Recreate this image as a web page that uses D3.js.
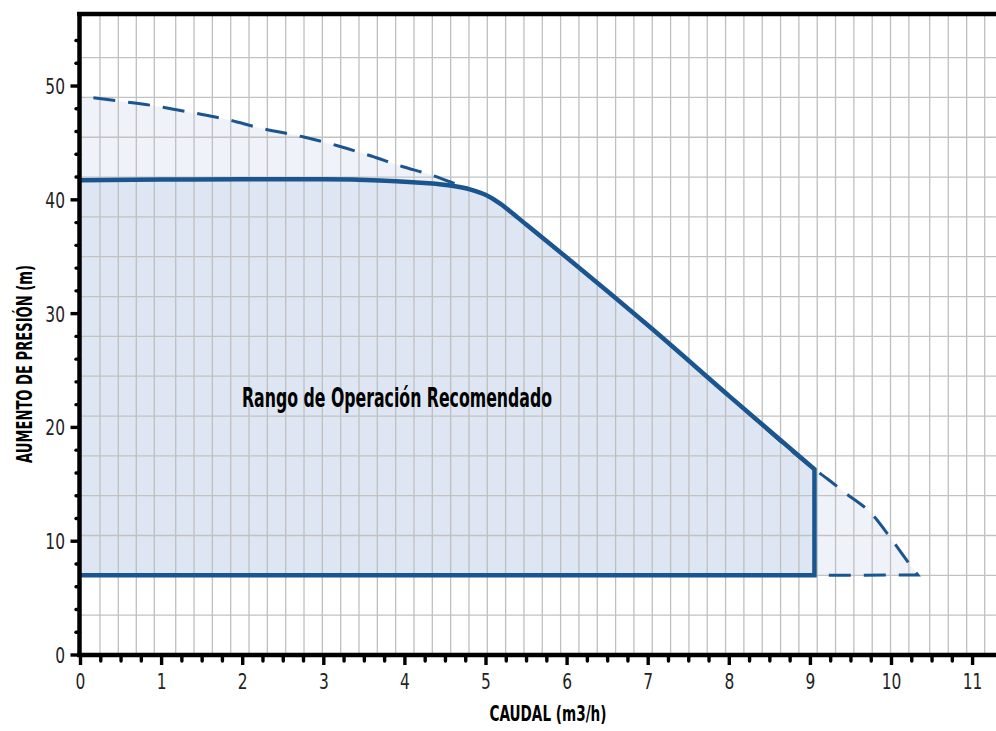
<!DOCTYPE html>
<html>
<head>
<meta charset="utf-8">
<script src="https://cdn.jsdelivr.net/npm/d3@7"></script>
<style>
  body { margin: 0; background: #fff; }
  svg text { font-family: "Liberation Sans Narrow", "DejaVu Sans Condensed", "Roboto Condensed", "Liberation Sans", sans-serif; }
</style>
</head>
<body>
<div id="chart"></div>
<script>
// curva maxima de la bomba (linea discontinua)
var maxQ = [0, 0.44, 0.93, 1.385, 1.80, 2.23, 2.74, 3.17, 3.585, 3.975, 4.26, 4.7, 5.0, 5.17, 5.33, 5.5, 6.07, 7, 8, 9.05, 9.216, 9.42, 9.77, 9.977, 10.18, 10.325];
var maxH = [49.1, 48.71, 48.24, 47.65, 47.07, 46.28, 45.54, 44.75, 43.85, 42.91, 42.33, 41.2, 40.42, 39.69, 38.8, 37.8, 34.5, 28.95, 22.75, 16.32, 15.44, 14.3, 12.3, 10.4, 8.4, 7.03];

// rango de operacion recomendado (linea continua)
var recQ = [0, 1, 2, 3, 3.69, 4.1, 4.51, 4.8, 5.0, 5.17, 5.33, 5.5, 6.07, 7, 8, 9.05];
var recH = [41.72, 41.78, 41.8, 41.8, 41.7, 41.54, 41.3, 40.92, 40.42, 39.69, 38.8, 37.8, 34.5, 28.95, 22.75, 16.32];

var hMin = 7;        // presion minima del rango
var qRecMax = 9.05;  // caudal maximo recomendado

var xTicks = [0, 1, 2, 3, 4, 5, 6, 7, 8, 9, 10, 11];
var yTicks = [0, 10, 20, 30, 40, 50];

// lineas de la cuadricula
var gridXa = [0.240, 0.466, 0.688, 0.910];
var gridXb = d3.range(0, 41).map(function(k) { return 1.174 + k * 0.226; });
var gridXc = [10.471, 10.700, 10.927, 11.149];
var gridX = gridXa.concat(gridXb, gridXc);
var gridY = d3.range(3.5, 53, 3.5);

var width = 996, height = 731;
var blue = "#1b5590";

var svg = d3.select("#chart").append("svg")
  .attr("width", width)
  .attr("height", height);

var x = d3.scaleLinear().domain([0, 11.35]).range([80.5, 80.5 + 11.35 * 81.1]);
var y = d3.scaleLinear().domain([0, 56.33]).range([655, 14]);

var maxData = maxQ.map(function(q, i) { return { q: q, h: maxH[i] }; });
var recData = recQ.map(function(q, i) { return { q: q, h: recH[i] }; });

var area = d3.area()
  .x(function(d) { return x(d.q); })
  .y0(y(hMin))
  .y1(function(d) { return y(d.h); })
  .curve(d3.curveMonotoneX);

var line = d3.line()
  .x(function(d) { return x(d.q); })
  .y(function(d) { return y(d.h); })
  .curve(d3.curveMonotoneX);

// fondos
svg.append("path").attr("d", area(maxData)).attr("fill", "#eff3f9");
svg.append("path").attr("d", area(recData)).attr("fill", "#dde6f2");

// cuadricula
var grid = svg.append("g").attr("class", "grid");
grid.selectAll("line.gx")
  .data(gridX)
  .join("line")
  .attr("class", "gx")
  .attr("x1", d => x(d)).attr("x2", d => x(d))
  .attr("y1", y(0)).attr("y2", 14)
  .attr("stroke", "#bfbfbf")
  .attr("stroke-width", 1.3);
grid.selectAll("line.gy")
  .data(gridY)
  .join("line")
  .attr("class", "gy")
  .attr("x1", 80).attr("x2", width)
  .attr("y1", d => y(d)).attr("y2", d => y(d))
  .attr("stroke", "#c2c2c2")
  .attr("stroke-width", 1.3);

// curva maxima discontinua
svg.append("path")
  .attr("d", line(maxData) + "L" + x(qRecMax) + "," + y(hMin))
  .attr("fill", "none")
  .attr("stroke", blue)
  .attr("stroke-width", 3)
  .attr("stroke-dasharray", "22,13")
  .attr("stroke-dashoffset", 22);

// rango recomendado
svg.append("path")
  .attr("d", line(recData) + "L" + x(qRecMax) + "," + y(hMin) + "L" + x(0) + "," + y(hMin))
  .attr("fill", "none")
  .attr("stroke", blue)
  .attr("stroke-width", 4.5)
  .attr("stroke-linejoin", "miter");

// ejes
var axes = svg.append("g");
axes.append("line").attr("x1", 77).attr("x2", width).attr("y1", 14).attr("y2", 14)
  .attr("stroke", "#000").attr("stroke-width", 4.5);
axes.append("line").attr("x1", 77).attr("x2", width).attr("y1", y(0)).attr("y2", y(0))
  .attr("stroke", "#000").attr("stroke-width", 4.5);
axes.append("line").attr("x1", 79.5).attr("x2", 79.5).attr("y1", 12).attr("y2", 657)
  .attr("stroke", "#000").attr("stroke-width", 4.5);

// marcas eje x
axes.selectAll("line.tx")
  .data(d3.range(0, 45).map(function(k) { return k / 4; }))
  .join("line")
  .attr("class", "tx")
  .attr("x1", d => x(d)).attr("x2", d => x(d))
  .attr("y1", y(0))
  .attr("y2", d => y(0) + (d % 1 === 0 ? 10 : 6))
  .attr("stroke", "#000")
  .attr("stroke-width", 3.4)
  .attr("stroke-linecap", d => d % 1 === 0 ? "butt" : "round");

// marcas eje y
axes.selectAll("line.ty")
  .data(d3.range(0, 56, 2))
  .join("line")
  .attr("class", "ty")
  .attr("x1", 79.5)
  .attr("x2", d => d % 10 === 0 ? 70.5 : 76)
  .attr("y1", d => y(d)).attr("y2", d => y(d))
  .attr("stroke", "#000")
  .attr("stroke-width", 3.4)
  .attr("stroke-linecap", d => d % 10 === 0 ? "butt" : "round");

// etiquetas
svg.selectAll("text.xl")
  .data(xTicks)
  .join("text")
  .attr("class", "xl")
  .attr("transform", d => "translate(" + x(d) + ",689) scale(0.78,1)")
  .attr("text-anchor", "middle")
  .attr("font-size", 22)
  .attr("fill", "#222")
  .text(d => d);

svg.selectAll("text.yl")
  .data(yTicks)
  .join("text")
  .attr("class", "yl")
  .attr("transform", d => "translate(65," + y(d) + ") scale(0.78,1)")
  .attr("dy", "0.36em")
  .attr("text-anchor", "end")
  .attr("font-size", 22)
  .attr("fill", "#222")
  .text(d => d);

svg.append("text")
  .attr("x", 548).attr("y", 721)
  .attr("text-anchor", "middle")
  .attr("font-size", 22)
  .attr("font-weight", "bold")
  .attr("textLength", 117)
  .attr("lengthAdjust", "spacingAndGlyphs")
  .text("CAUDAL (m3/h)");

svg.append("text")
  .attr("transform", "translate(32,364) rotate(-90)")
  .attr("text-anchor", "middle")
  .attr("font-size", 22)
  .attr("font-weight", "bold")
  .attr("textLength", 198)
  .attr("lengthAdjust", "spacingAndGlyphs")
  .text("AUMENTO DE PRESIÓN (m)");

svg.append("text")
  .attr("x", 242).attr("y", 407)
  .attr("font-size", 27)
  .attr("font-weight", "bold")
  .attr("textLength", 310)
  .attr("lengthAdjust", "spacingAndGlyphs")
  .text("Rango de Operación Recomendado");
</script>
</body>
</html>
